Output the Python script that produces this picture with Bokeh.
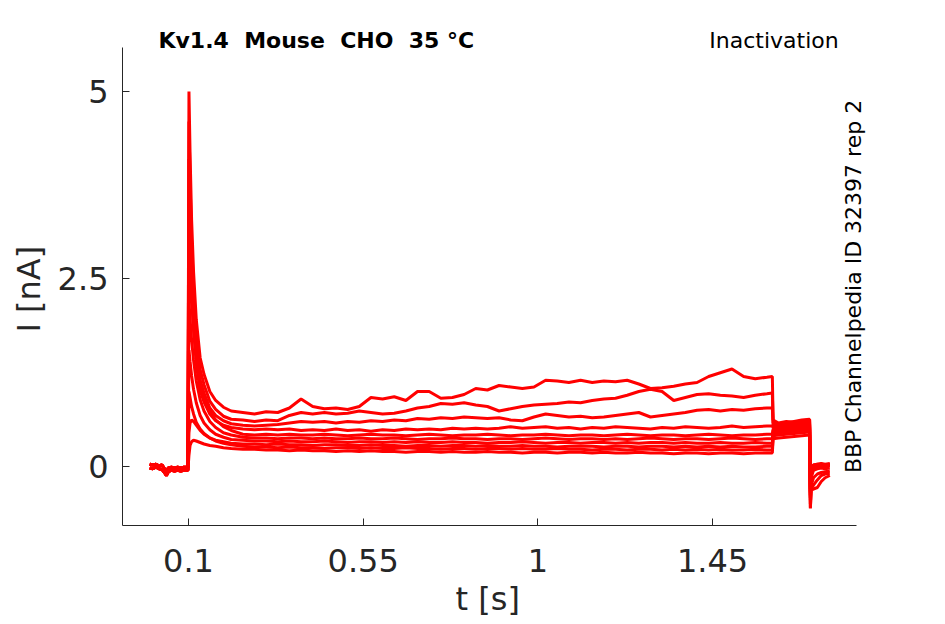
from bokeh.plotting import figure
from bokeh.models import FixedTicker, Label, Title
from bokeh.embed import file_html
from bokeh.resources import INLINE
import math

# ---------------- data ----------------
# holding period before the step
t_base = [0.000, 0.008, 0.016, 0.024, 0.032, 0.038, 0.043, 0.048, 0.056, 0.064, 0.072, 0.080, 0.088, 0.0985]
base_hi = [0.03, 0.02, 0.03, 0.01, 0.02, -0.03, -0.06, -0.02, -0.01, -0.02, -0.01, -0.02, -0.01, -0.01]
base_lo = [-0.02, -0.03, -0.01, -0.03, -0.04, -0.08, -0.12, -0.07, -0.05, -0.06, -0.05, -0.06, -0.05, -0.05]

# fast part right after the step
t_decay = [0.1012, 0.104, 0.108, 0.113, 0.12, 0.13, 0.14, 0.155, 0.17, 0.19, 0.21]
# slow part of the step
t_plateau = [0.24, 0.27, 0.30, 0.33, 0.36, 0.39, 0.42, 0.45, 0.48, 0.51,
             0.54, 0.57, 0.60, 0.63, 0.66, 0.69, 0.72, 0.75, 0.78, 0.81,
             0.84, 0.87, 0.90, 0.93, 0.96, 0.99, 1.02, 1.05, 1.08, 1.11,
             1.14, 1.17, 1.20, 1.23, 1.26, 1.29, 1.32, 1.35, 1.38, 1.41,
             1.44, 1.47, 1.50, 1.53, 1.56, 1.59, 1.604]
# test pulse
t_test = [1.606, 1.62, 1.64, 1.66, 1.68, 1.70]
# tail
t_tail = [1.702, 1.704, 1.71, 1.72, 1.73, 1.74, 1.752]

decay_A = [5.0, 4.19, 3.29, 2.60, 1.96, 1.45, 1.23, 1.00, 0.88, 0.79, 0.74]
decay_B = [4.6, 3.84, 3.00, 2.37, 1.77, 1.29, 1.09, 0.87, 0.76, 0.67, 0.63]
decay_C = [4.1, 3.43, 2.68, 2.11, 1.58, 1.15, 0.98, 0.78, 0.68, 0.61, 0.57]
decay_D = [3.5, 2.93, 2.30, 1.82, 1.37, 1.01, 0.86, 0.70, 0.61, 0.55, 0.52]
decay_E = [2.9, 2.60, 2.21, 1.84, 1.47, 1.12, 0.92, 0.73, 0.62, 0.53, 0.48]
decay_F = [2.2, 1.98, 1.69, 1.42, 1.14, 0.89, 0.74, 0.60, 0.52, 0.45, 0.42]
decay_G = [1.55, 1.40, 1.21, 1.03, 0.85, 0.68, 0.58, 0.49, 0.43, 0.39, 0.36]
decay_H = [1.0, 0.92, 0.80, 0.70, 0.59, 0.50, 0.44, 0.38, 0.35, 0.33, 0.31]
decay_I = [0.45, 0.58, 0.62, 0.60, 0.55, 0.48, 0.43, 0.38, 0.34, 0.31, 0.29]
decay_J = [0.15, 0.28, 0.33, 0.35, 0.34, 0.32, 0.30, 0.28, 0.27, 0.25, 0.24]

plateau_A = [0.72, 0.70, 0.73, 0.72, 0.78, 0.90, 0.80, 0.77, 0.78, 0.76,
             0.80, 0.92, 0.90, 0.93, 0.88, 1.00, 1.00, 0.91, 0.92, 0.96,
             1.04, 1.02, 1.08, 1.06, 1.04, 1.06, 1.15, 1.14, 1.12, 1.15,
             1.12, 1.14, 1.13, 1.15, 1.10, 1.04, 1.05, 1.07, 1.10, 1.12,
             1.20, 1.25, 1.30, 1.20, 1.17, 1.19, 1.20]
plateau_B = [0.62, 0.60, 0.62, 0.61, 0.68, 0.72, 0.70, 0.72, 0.70, 0.71,
             0.74, 0.72, 0.70, 0.71, 0.74, 0.78, 0.80, 0.84, 0.83, 0.85,
             0.82, 0.80, 0.74, 0.77, 0.80, 0.82, 0.83, 0.84, 0.86, 0.85,
             0.88, 0.90, 0.91, 0.95, 1.00, 1.03, 1.00, 0.88, 0.92, 0.96,
             0.97, 0.95, 0.94, 0.92, 0.95, 0.97, 0.98]
plateau_C = [0.55, 0.54, 0.55, 0.56, 0.58, 0.60, 0.59, 0.60, 0.58, 0.60,
             0.59, 0.61, 0.60, 0.62, 0.61, 0.64, 0.63, 0.65, 0.64, 0.66,
             0.65, 0.64, 0.65, 0.62, 0.61, 0.66, 0.70, 0.68, 0.66, 0.67,
             0.65, 0.66, 0.68, 0.70, 0.72, 0.66, 0.68, 0.70, 0.72, 0.75,
             0.76, 0.74, 0.76, 0.75, 0.77, 0.78, 0.78]
plateau_D = [0.50, 0.49, 0.50, 0.49, 0.50, 0.48, 0.49, 0.48, 0.50, 0.48,
             0.49, 0.47, 0.49, 0.48, 0.50, 0.49, 0.50, 0.49, 0.51, 0.50,
             0.51, 0.50, 0.51, 0.53, 0.51, 0.52, 0.53, 0.51, 0.52, 0.50,
             0.52, 0.51, 0.53, 0.52, 0.51, 0.50, 0.52, 0.51, 0.53, 0.52,
             0.51, 0.52, 0.54, 0.52, 0.53, 0.54, 0.54]
plateau_E = [0.43, 0.42, 0.43, 0.42, 0.43, 0.42, 0.42, 0.43, 0.42, 0.41,
             0.42, 0.43, 0.42, 0.42, 0.41, 0.42, 0.43, 0.42, 0.41, 0.42,
             0.42, 0.43, 0.42, 0.41, 0.42, 0.42, 0.43, 0.42, 0.41, 0.42,
             0.42, 0.41, 0.42, 0.43, 0.42, 0.41, 0.42, 0.42, 0.41, 0.42,
             0.43, 0.42, 0.41, 0.42, 0.42, 0.43, 0.43]
plateau_F = [0.39, 0.38, 0.38, 0.37, 0.38, 0.38, 0.37, 0.38, 0.37, 0.37,
             0.38, 0.37, 0.37, 0.38, 0.37, 0.36, 0.37, 0.37, 0.38, 0.37,
             0.37, 0.36, 0.37, 0.37, 0.36, 0.37, 0.38, 0.37, 0.36, 0.37,
             0.37, 0.36, 0.37, 0.36, 0.37, 0.38, 0.37, 0.36, 0.37, 0.37,
             0.36, 0.37, 0.38, 0.37, 0.36, 0.37, 0.37]
plateau_G = [0.35, 0.34, 0.34, 0.33, 0.34, 0.33, 0.33, 0.34, 0.33, 0.32,
             0.33, 0.33, 0.32, 0.33, 0.32, 0.33, 0.32, 0.32, 0.33, 0.32,
             0.32, 0.31, 0.32, 0.32, 0.33, 0.32, 0.31, 0.32, 0.32, 0.31,
             0.32, 0.32, 0.31, 0.32, 0.31, 0.32, 0.32, 0.31, 0.32, 0.31,
             0.31, 0.32, 0.31, 0.31, 0.32, 0.31, 0.31]
plateau_H = [0.30, 0.30, 0.29, 0.30, 0.29, 0.29, 0.28, 0.29, 0.29, 0.28,
             0.28, 0.29, 0.28, 0.28, 0.27, 0.28, 0.28, 0.27, 0.28, 0.28,
             0.27, 0.28, 0.27, 0.27, 0.28, 0.27, 0.27, 0.26, 0.27, 0.27,
             0.27, 0.26, 0.27, 0.27, 0.26, 0.27, 0.27, 0.26, 0.27, 0.26,
             0.27, 0.26, 0.27, 0.26, 0.26, 0.27, 0.27]
plateau_I = [0.27, 0.26, 0.26, 0.25, 0.26, 0.25, 0.25, 0.24, 0.25, 0.25,
             0.24, 0.25, 0.24, 0.24, 0.25, 0.24, 0.24, 0.23, 0.24, 0.24,
             0.23, 0.24, 0.24, 0.23, 0.24, 0.23, 0.23, 0.24, 0.23, 0.23,
             0.22, 0.23, 0.23, 0.22, 0.23, 0.23, 0.22, 0.23, 0.22, 0.23,
             0.22, 0.23, 0.22, 0.22, 0.23, 0.22, 0.22]
plateau_J = [0.23, 0.23, 0.22, 0.22, 0.21, 0.22, 0.21, 0.21, 0.20, 0.21,
             0.20, 0.21, 0.20, 0.20, 0.19, 0.20, 0.20, 0.19, 0.20, 0.19,
             0.19, 0.20, 0.19, 0.19, 0.18, 0.19, 0.19, 0.18, 0.19, 0.19,
             0.18, 0.19, 0.18, 0.18, 0.19, 0.18, 0.18, 0.17, 0.18, 0.18,
             0.17, 0.18, 0.18, 0.17, 0.18, 0.18, 0.18]

test_A = [0.62, 0.58, 0.60, 0.59, 0.61, 0.62]
test_B = [0.58, 0.57, 0.58, 0.60, 0.62, 0.63]
test_C = [0.55, 0.55, 0.56, 0.57, 0.58, 0.60]
test_D = [0.52, 0.53, 0.54, 0.55, 0.56, 0.57]
test_E = [0.50, 0.51, 0.52, 0.53, 0.54, 0.55]
test_F = [0.48, 0.49, 0.50, 0.51, 0.52, 0.53]
test_G = [0.46, 0.47, 0.48, 0.49, 0.50, 0.51]
test_H = [0.44, 0.45, 0.46, 0.47, 0.48, 0.49]
test_I = [0.41, 0.42, 0.43, 0.44, 0.45, 0.46]
test_J = [0.37, 0.38, 0.39, 0.40, 0.41, 0.42]

tail_A = [-0.30, -0.05, 0.02, 0.03, 0.04, 0.03, 0.04]
tail_B = [-0.35, -0.08, 0.00, 0.02, 0.03, 0.02, 0.03]
tail_C = [-0.40, -0.10, -0.02, 0.00, 0.01, 0.00, 0.01]
tail_D = [-0.45, -0.15, -0.05, -0.03, -0.02, -0.03, -0.02]
tail_E = [-0.50, -0.25, -0.15, -0.10, -0.08, -0.07, -0.06]
tail_F = [-0.55, -0.30, -0.25, -0.18, -0.12, -0.10, -0.09]
tail_G = [-0.56, -0.32, -0.30, -0.28, -0.20, -0.15, -0.12]
tail_H = [-0.42, -0.06, 0.01, 0.02, 0.02, 0.01, 0.02]
tail_I = [-0.38, -0.04, 0.02, 0.03, 0.03, 0.02, 0.03]
tail_J = [-0.33, -0.03, 0.01, 0.02, 0.03, 0.02, 0.02]

x_ticks = [0.1, 0.55, 1, 1.45]
x_tick_labels = ["0.1", "0.55", "1", "1.45"]
y_ticks = [0, 2.5, 5]
y_tick_labels = ["0", "2.5", "5"]

title_text = "Kv1.4 \u00a0Mouse \u00a0CHO \u00a035 °C"
protocol_text = "Inactivation"
source_text = "BBP Channelpedia ID 32397 rep 2"
x_label = "t [s]"
y_label = "I [nA]"

traces = [
    (base_hi, decay_A, plateau_A, test_A, tail_A),
    (base_lo, decay_B, plateau_B, test_B, tail_B),
    (base_hi, decay_C, plateau_C, test_C, tail_C),
    (base_lo, decay_D, plateau_D, test_D, tail_D),
    (base_hi, decay_E, plateau_E, test_E, tail_E),
    (base_lo, decay_F, plateau_F, test_F, tail_F),
    (base_hi, decay_G, plateau_G, test_G, tail_G),
    (base_lo, decay_H, plateau_H, test_H, tail_H),
    (base_hi, decay_I, plateau_I, test_I, tail_I),
    (base_lo, decay_J, plateau_J, test_J, tail_J),
]

# ---------------- figure ----------------
TXT = "#262626"
FONT = "DejaVu Sans"

# the frame is a little larger than the axes so that the header texts fit inside it;
# the axes themselves are limited with "bounds"
X_AXIS = (-0.07, 1.821)
Y_AXIS = (-0.787, 5.587)

p = figure(frame_width=750, frame_height=500,
           min_border_left=122, min_border_top=25, min_border_right=10, min_border_bottom=0,
           x_range=(-0.07, 1.862), y_range=(-0.787, 5.88),
           output_backend="svg", toolbar_location=None)
p.title.visible = False
p.outline_line_color = None
p.xgrid.visible = False
p.ygrid.visible = False
p.background_fill_color = "white"
p.border_fill_color = "white"

t_all = t_base + t_decay + t_plateau + t_test + t_tail
for base, dec, pla, tst, tl in traces:
    p.line(t_all, base + dec + pla + tst + tl, line_color="#ff0000", line_width=3)

for ax in (p.xaxis, p.yaxis):
    ax.axis_line_color = TXT
    ax.major_tick_line_color = TXT
    ax.major_tick_in = 7
    ax.major_tick_out = 0
    ax.minor_tick_line_color = None
    ax.major_label_text_font = FONT
    ax.major_label_text_font_size = "32px"
    ax.major_label_text_color = TXT

p.xaxis.bounds = X_AXIS
p.xaxis.ticker = FixedTicker(ticks=x_ticks)
p.xaxis.major_label_overrides = dict(zip(x_ticks, x_tick_labels))
p.xaxis.major_label_standoff = 23

p.yaxis.bounds = Y_AXIS
p.yaxis.ticker = FixedTicker(ticks=y_ticks)
p.yaxis.major_label_overrides = dict(zip(y_ticks, y_tick_labels))
p.yaxis.major_label_standoff = 14

# axis titles placed along the bounded axes
p.add_layout(Title(text=x_label, align="left", offset=333, vertical_align="top",
                   standoff=10, text_font=FONT, text_font_size="32px",
                   text_font_style="normal", text_color=TXT), "below")
p.add_layout(Title(text=y_label, align="left", offset=193, vertical_align="bottom",
                   standoff=14, text_font=FONT, text_font_size="32px",
                   text_font_style="normal", text_color=TXT), "left")

p.add_layout(Label(x=0.0227, y=5.68, text=title_text, text_font=FONT,
                   text_font_style="bold", text_font_size="22px", text_color="black",
                   text_align="left", text_baseline="middle"))
p.add_layout(Label(x=1.775, y=5.68, text=protocol_text, text_font=FONT,
                   text_font_size="22px", text_color="black",
                   text_align="right", text_baseline="middle"))
p.add_layout(Label(x=1.812, y=2.4, text=source_text, text_font=FONT,
                   text_font_size="22px", text_color="black", angle=math.pi / 2,
                   text_align="center", text_baseline="middle"))

open("out.html", "w").write(file_html(p, INLINE))
